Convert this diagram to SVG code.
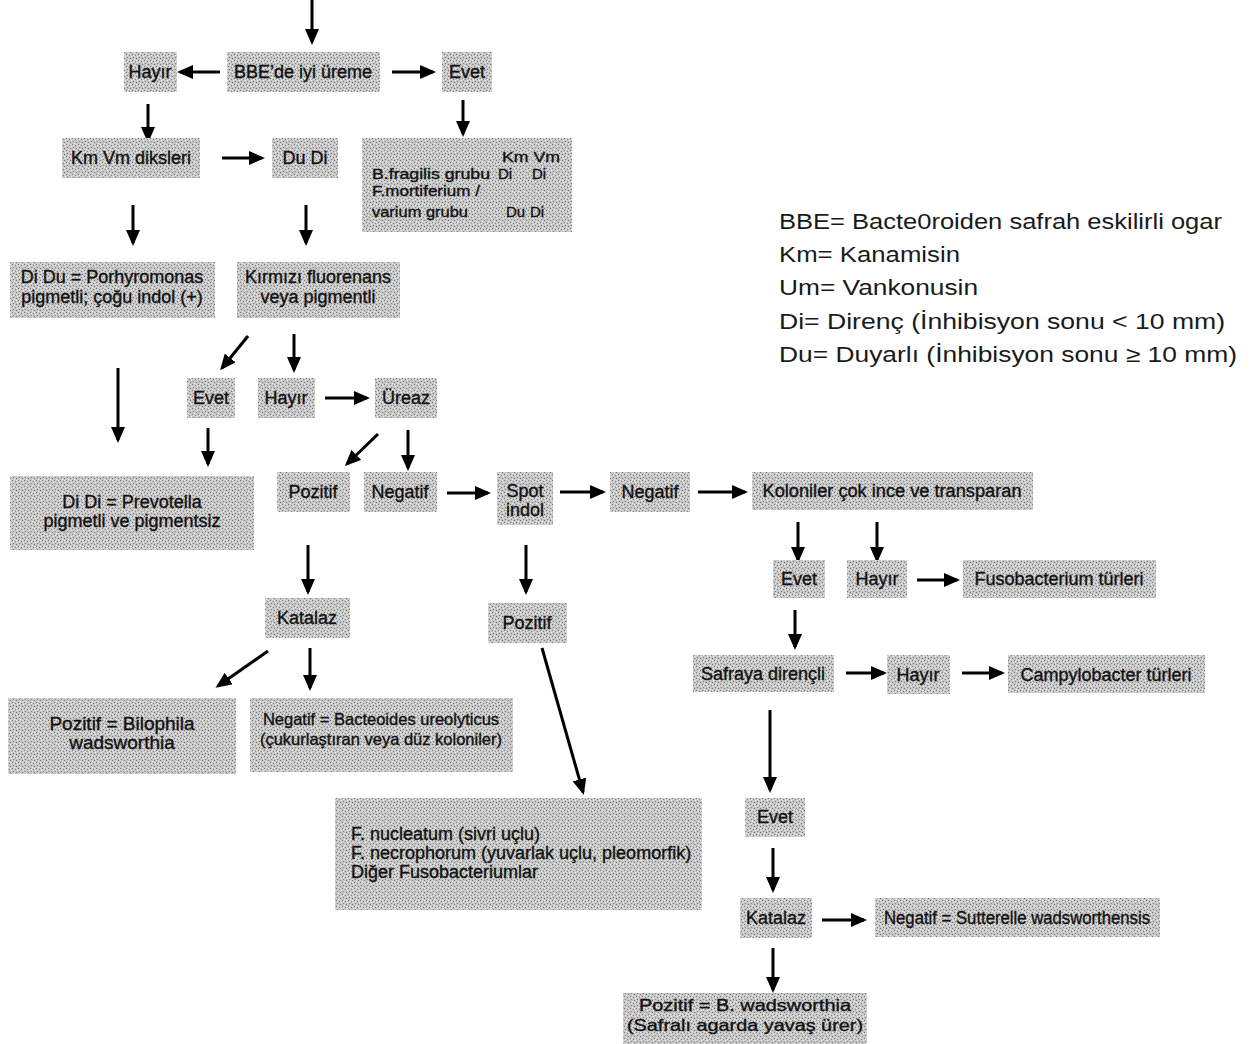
<svg xmlns="http://www.w3.org/2000/svg" width="1250" height="1044" viewBox="0 0 1250 1044">
<defs>
<pattern id="stip" width="6" height="6" patternUnits="userSpaceOnUse">
<rect width="6" height="6" fill="#c6c6c6"/>
<rect x="0" y="0" width="1" height="1" fill="#777"/>
<rect x="3" y="1" width="1" height="1" fill="#858585"/>
<rect x="1" y="3" width="1" height="1" fill="#808080"/>
<rect x="4" y="4" width="1" height="1" fill="#777"/>
<rect x="2" y="5" width="1" height="1" fill="#f2f2f2"/>
<rect x="5" y="2" width="1" height="1" fill="#f2f2f2"/>
<rect x="1" y="1" width="1" height="1" fill="#ececec"/>
<rect x="4" y="0" width="1" height="1" fill="#e8e8e8"/>
</pattern>
<marker id="ah" markerUnits="userSpaceOnUse" markerWidth="16" markerHeight="14" viewBox="0 0 16 14" refX="13" refY="7" orient="auto">
<path d="M0,0 L16,7 L0,14 z" fill="#000"/>
</marker>
</defs>
<style>
.box{fill:url(#stip);}
.t{font-family:"Liberation Sans",Arial,sans-serif;font-size:18px;fill:#111;stroke:#111;stroke-width:0.35;text-anchor:middle;}
.s{font-size:16.5px;}
.m{font-size:19px;}
.f{font-size:15px;}
.b{font-size:16.5px;}
.l{text-anchor:start;}
.lg{font-family:"Liberation Sans",Arial,sans-serif;font-size:22px;fill:#1a1a1a;}
.c line{stroke:#000;stroke-width:3;marker-end:url(#ah);}
</style>
<rect width="1250" height="1044" fill="#fff"/>

<g class="c" id="connectors">
<line x1="312" y1="0" x2="312" y2="42"/>
<line x1="220" y1="72" x2="180" y2="72"/>
<line x1="392" y1="72" x2="433" y2="72"/>
<line x1="148" y1="104" x2="148" y2="140"/>
<line x1="463" y1="100" x2="463" y2="134"/>
<line x1="222" y1="158" x2="262" y2="158"/>
<line x1="133" y1="205" x2="133" y2="243"/>
<line x1="306" y1="205" x2="306" y2="243"/>
<line x1="248" y1="336" x2="222" y2="368"/>
<line x1="294" y1="334" x2="294" y2="370"/>
<line x1="118" y1="368" x2="118" y2="440"/>
<line x1="325" y1="398" x2="367" y2="398"/>
<line x1="208" y1="428" x2="208" y2="464"/>
<line x1="378" y1="434" x2="347" y2="464"/>
<line x1="408" y1="430" x2="408" y2="468"/>
<line x1="447" y1="493" x2="488" y2="493"/>
<line x1="560" y1="492" x2="603" y2="492"/>
<line x1="698" y1="492" x2="745" y2="492"/>
<line x1="308" y1="545" x2="308" y2="592"/>
<line x1="526" y1="545" x2="526" y2="592"/>
<line x1="798" y1="522" x2="798" y2="560"/>
<line x1="877" y1="522" x2="877" y2="560"/>
<line x1="917" y1="580" x2="957" y2="580"/>
<line x1="795" y1="610" x2="795" y2="647"/>
<line x1="846" y1="673" x2="884" y2="673"/>
<line x1="962" y1="673" x2="1002" y2="673"/>
<line x1="268" y1="651" x2="218" y2="686"/>
<line x1="310" y1="648" x2="310" y2="688"/>
<line x1="542" y1="648" x2="583" y2="792"/>
<line x1="770" y1="710" x2="770" y2="790"/>
<line x1="773" y1="848" x2="773" y2="890"/>
<line x1="822" y1="920" x2="864" y2="920"/>
<line x1="773" y1="948" x2="773" y2="990"/>
</g>

<g id="n_bbe"><rect class="box" x="227" y="52" width="153" height="40"/><text class="t" x="303" y="78">BBE’de iyi üreme</text></g>
<g id="n_hayir1"><rect class="box" x="124" y="52" width="53" height="40"/><text class="t" x="150" y="78">Hayır</text></g>
<g id="n_evet1"><rect class="box" x="442" y="52" width="50" height="40"/><text class="t" x="467" y="78">Evet</text></g>
<g id="n_kmvm"><rect class="box" x="62" y="138" width="138" height="40"/><text class="t" x="131" y="164">Km Vm diksleri</text></g>
<g id="n_dudi"><rect class="box" x="272" y="138" width="66" height="40"/><text class="t" x="305" y="164">Du Di</text></g>
<g id="n_bfrag"><rect class="box" x="362" y="138" width="210" height="94"/>
<text class="t f l" x="502" y="162" textLength="58" lengthAdjust="spacingAndGlyphs">Km Vm</text>
<text class="t f l" x="372" y="179" textLength="118" lengthAdjust="spacingAndGlyphs">B.fragilis grubu</text>
<text class="t f l" x="498" y="179">Di</text>
<text class="t f l" x="532" y="179">Di</text>
<text class="t f l" x="372" y="196" textLength="108" lengthAdjust="spacingAndGlyphs">F.mortiferium /</text>
<text class="t f l" x="372" y="217" textLength="96" lengthAdjust="spacingAndGlyphs">varium grubu</text>
<text class="t f l" x="506" y="217">Du</text>
<text class="t f l" x="530" y="217">Di</text>
</g>
<g id="n_porph"><rect class="box" x="10" y="262" width="205" height="56"/><text class="t" x="112" y="283">Di Du = Porhyromonas</text><text class="t" x="112" y="303">pigmetli; çoğu indol (+)</text></g>
<g id="n_kirmizi"><rect class="box" x="237" y="262" width="163" height="56"/><text class="t" x="318" y="283">Kırmızı fluorenans</text><text class="t" x="318" y="303">veya pigmentli</text></g>
<g id="n_evet2"><rect class="box" x="187" y="378" width="48" height="40"/><text class="t" x="211" y="404">Evet</text></g>
<g id="n_hayir2"><rect class="box" x="258" y="378" width="57" height="40"/><text class="t" x="286" y="404">Hayır</text></g>
<g id="n_ureaz"><rect class="box" x="375" y="378" width="62" height="40"/><text class="t" x="406" y="404">Üreaz</text></g>
<g id="n_prevo"><rect class="box" x="10" y="476" width="244" height="74"/><text class="t" x="132" y="508">Di Di = Prevotella</text><text class="t" x="132" y="527">pigmetli ve pigmentsiz</text></g>
<g id="n_poz1"><rect class="box" x="277" y="472" width="73" height="40"/><text class="t" x="313" y="498">Pozitif</text></g>
<g id="n_neg1"><rect class="box" x="364" y="472" width="73" height="40"/><text class="t" x="400" y="498">Negatif</text></g>
<g id="n_spot"><rect class="box" x="497" y="472" width="56" height="53"/><text class="t" x="525" y="497">Spot</text><text class="t" x="525" y="516">indol</text></g>
<g id="n_neg2"><rect class="box" x="610" y="472" width="80" height="40"/><text class="t" x="650" y="498">Negatif</text></g>
<g id="n_kolon"><rect class="box" x="752" y="472" width="281" height="38"/><text class="t" x="892" y="497" textLength="259" lengthAdjust="spacingAndGlyphs">Koloniler çok ince ve transparan</text></g>
<g id="n_katalaz1"><rect class="box" x="265" y="598" width="85" height="40"/><text class="t" x="307" y="624">Katalaz</text></g>
<g id="n_poz2"><rect class="box" x="488" y="603" width="79" height="40"/><text class="t" x="527" y="629">Pozitif</text></g>
<g id="n_evet3"><rect class="box" x="773" y="560" width="52" height="38"/><text class="t" x="799" y="585">Evet</text></g>
<g id="n_hayir3"><rect class="box" x="847" y="560" width="60" height="38"/><text class="t" x="877" y="585">Hayır</text></g>
<g id="n_fuso"><rect class="box" x="963" y="560" width="193" height="38"/><text class="t" x="1059" y="585">Fusobacterium türleri</text></g>
<g id="n_safra"><rect class="box" x="693" y="655" width="141" height="37"/><text class="t" x="763" y="680">Safraya dirençli</text></g>
<g id="n_hayir4"><rect class="box" x="887" y="655" width="63" height="39"/><text class="t" x="918" y="681">Hayır</text></g>
<g id="n_campy"><rect class="box" x="1008" y="655" width="197" height="38"/><text class="t" x="1106" y="681">Campylobacter türleri</text></g>
<g id="n_bilo"><rect class="box" x="8" y="698" width="228" height="76"/><text class="t m" x="122" y="730">Pozitif = Bilophila</text><text class="t m" x="122" y="749">wadsworthia</text></g>
<g id="n_bacte"><rect class="box" x="250" y="698" width="263" height="74"/><text class="t s" x="381" y="725">Negatif = Bacteoides ureolyticus</text><text class="t s" x="381" y="745">(çukurlaştıran veya düz koloniler)</text></g>
<g id="n_fnuc"><rect class="box" x="335" y="798" width="367" height="112"/><text class="t l" x="351" y="840">F. nucleatum (sivri uçlu)</text><text class="t l" x="351" y="859">F. necrophorum (yuvarlak uçlu, pleomorfik)</text><text class="t l" x="351" y="878">Diğer Fusobacteriumlar</text></g>
<g id="n_evet4"><rect class="box" x="745" y="798" width="60" height="39"/><text class="t" x="775" y="823">Evet</text></g>
<g id="n_katalaz2"><rect class="box" x="740" y="898" width="72" height="40"/><text class="t" x="776" y="924">Katalaz</text></g>
<g id="n_sutt"><rect class="box" x="875" y="898" width="285" height="39"/><text class="t" x="1017" y="924" textLength="266" lengthAdjust="spacingAndGlyphs">Negatif = Sutterelle wadsworthensis</text></g>
<g id="n_bwad"><rect class="box" x="623" y="993" width="244" height="51"/><text class="t b" x="745" y="1011" textLength="212" lengthAdjust="spacingAndGlyphs">Pozitif = B. wadsworthia</text><text class="t b" x="745" y="1031" textLength="236" lengthAdjust="spacingAndGlyphs">(Safralı agarda yavaş ürer)</text></g>

<g id="legend">
<text class="lg" x="779" y="229" textLength="443" lengthAdjust="spacingAndGlyphs">BBE= Bacte0roiden safrah eskilirli ogar</text>
<text class="lg" x="779" y="262" textLength="181" lengthAdjust="spacingAndGlyphs">Km= Kanamisin</text>
<text class="lg" x="779" y="295" textLength="199" lengthAdjust="spacingAndGlyphs">Um= Vankonusin</text>
<text class="lg" x="779" y="329" textLength="446" lengthAdjust="spacingAndGlyphs">Di= Direnç (İnhibisyon sonu &lt; 10 mm)</text>
<text class="lg" x="779" y="362" textLength="458" lengthAdjust="spacingAndGlyphs">Du= Duyarlı (İnhibisyon sonu ≥ 10 mm)</text>
</g>
</svg>
